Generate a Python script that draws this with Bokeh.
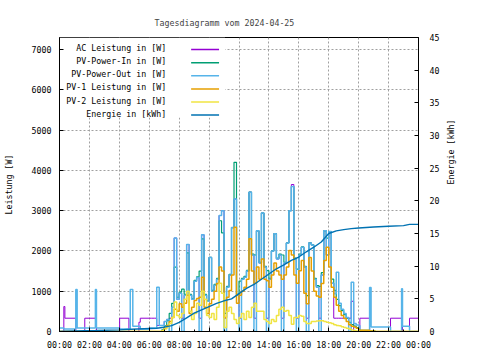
from bokeh.plotting import figure
from bokeh.models import Range1d, LinearAxis, FixedTicker, ColumnDataSource
from bokeh.core.properties import value
from bokeh.embed import file_html
from bokeh.resources import INLINE
import math

FONT = "DejaVu Sans Mono"
FS = "8.3px"
title = "Tagesdiagramm vom 2024-04-25"
labels = ["AC Leistung in [W]", "PV-Power-In in [W]", "PV-Power-Out in [W]",
          "PV-1 Leistung in [W]", "PV-2 Leistung in [W]", "Energie in [kWh]"]
colors = ["#9400d3", "#009e73", "#56b4e9", "#e69f00", "#f0e442", "#0072b2"]

x_ticks = [0, 2, 4, 6, 8, 10, 12, 14, 16, 18, 20, 22, 24]
x_tick_labels = ["00:00", "02:00", "04:00", "06:00", "08:00", "10:00", "12:00",
                 "14:00", "16:00", "18:00", "20:00", "22:00", "00:00"]
y_ticks = [0, 1000, 2000, 3000, 4000, 5000, 6000, 7000]
y2_ticks = [0, 5, 10, 15, 20, 25, 30, 35, 40, 45]

# ---- night samples (hours) ----
t_night = [0.0, 0.29, 0.36, 1.09, 1.18, 1.69, 2.40, 2.47, 4.02, 4.64, 4.73, 4.90, 5.31, 5.40]
out_night = [90, 60, 60, 1040, 90, 90, 1040, 90, 60, 60, 1040, 130, 130, 60]
ac_night = [0, 620, 330, 0, 0, 330, 330, 0, 330, 0, 0, 0, 230, 330]
in_night = [0] * 14
pv1_night = [0] * 14
pv2_night = [0] * 14

# ---- day samples, every 10 minutes from 06:00 to 20:00 ----
t_day = [6 + i / 6 for i in range(85)]
out_day = [90, 90, 90, 1100, 150, 150, 250, 300, 0, 600,
           2320, 800, 950, 0, 900, 2160, 900, 800, 1250, 1340,
           0, 2400, 900, 750, 1840, 1000, 1150, 1300, 2880, 3000,
           0, 1100, 1400, 2580, 3290, 900, 0, 1300, 1350, 1500,
           3460, 1900, 0, 2500, 1700, 2940, 1600, 0, 1300, 2000,
           2430, 1800, 1900, 0, 1700, 2200, 3000, 3600, 1800, 0,
           1900, 2090, 1600, 0, 2200, 2150, 1300, 1100, 0, 1400,
           2500, 1900, 2480, 1200, 940, 1470, 700, 550, 450, 350,
           0, 1220, 200, 160, 150]
ac_day = [330, 330, 330, 150, 150, 150, 250, 300, 330, 600,
          2320, 800, 950, 330, 900, 2160, 900, 800, 1250, 1340,
          330, 2400, 900, 750, 1840, 1000, 1150, 1300, 2880, 3000,
          330, 1100, 1400, 2580, 3290, 900, 330, 1300, 1350, 1500,
          3460, 1900, 330, 2500, 1700, 2940, 1600, 330, 1300, 2000,
          2430, 1800, 1900, 330, 1700, 2200, 3000, 3650, 1800, 330,
          1900, 2090, 1600, 330, 2200, 2150, 1300, 1100, 330, 1400,
          2500, 1900, 2480, 1200, 330, 330, 330, 330, 330, 330,
          330, 750, 0, 0, 0]
in_day = [0, 0, 0, 0, 0, 40, 140, 270, 450, 700,
          1600, 850, 980, 1050, 920, 1950, 920, 820, 1270, 1360,
          1500, 2300, 920, 770, 1840, 1020, 1170, 1320, 2750, 2450,
          450, 1120, 1420, 2580, 4200, 920, 1250, 1320, 1370, 1520,
          3460, 1920, 1900, 2500, 1720, 2940, 1620, 1510, 1320, 2000,
          2430, 1820, 1920, 1900, 1720, 2200, 3000, 3600, 1820, 1550,
          1920, 2100, 1620, 890, 2200, 2150, 1320, 1140, 1120, 1460,
          2500, 2320, 2480, 1300, 1020, 800, 640, 520, 420, 330,
          230, 170, 135, 95, 45]
pv1_day = [0, 0, 0, 0, 0, 20, 80, 150, 250, 350,
           550, 500, 690, 600, 700, 900, 450, 600, 770, 820,
           850, 1350, 600, 450, 690, 800, 1000, 1190, 1600, 1500,
           350, 850, 1020, 1400, 2590, 700, 900, 1000, 1100, 1300,
           2300, 1500, 1200, 1600, 1300, 1800, 1300, 1260, 1100, 1400,
           1700, 1500, 1400, 1300, 1400, 1600, 2010, 1900, 1400, 1200,
           1510, 1760, 950, 690, 1840, 1500, 1000, 880, 850, 1190,
           1760, 2090, 1600, 1100, 850, 650, 500, 400, 320, 250,
           170, 130, 110, 80, 40]
pv2_day = [0, 0, 0, 0, 0, 20, 60, 120, 200, 350,
           730, 400, 350, 450, 800, 1000, 500, 300, 450, 700,
           650, 1000, 800, 400, 350, 450, 300, 600, 1200, 950,
           100, 500, 600, 450, 300, 200, 350, 450, 300, 500,
           350, 600, 700, 500, 500, 500, 300, 250, 200, 300,
           250, 400, 550, 600, 500, 520, 400, 180, 350, 350,
           400, 380, 250, 200, 200, 250, 250, 260, 270, 270,
           250, 230, 220, 200, 170, 150, 140, 120, 100, 80,
           60, 40, 25, 15, 5]

# ---- evening samples ----
t_eve = [20.08, 20.73, 20.83, 21.1, 22.13, 22.87, 22.93, 23.4, 24.0]
out_eve = [0, 1090, 110, 110, 0, 1060, 130, 0, 0]
ac_eve = [330, 0, 0, 0, 330, 700, 0, 330, 330]
in_eve = [30, 20, 15, 0, 0, 0, 0, 0, 0]
pv1_eve = [30, 20, 15, 0, 0, 0, 0, 0, 0]
pv2_eve = [0, 0, 0, 0, 0, 0, 0, 0, 0]

# ---- cumulative energy (kWh) ----
e_t = [0, 0.3, 2.4, 4.0, 4.8, 6.5, 7.0, 7.5, 8.0, 8.5, 9.0, 9.5, 10.0, 10.5, 11.0, 11.5,
       12.0, 12.5, 13.0, 13.5, 14.0, 14.5, 15.0, 15.5, 16.0, 16.5, 17.0, 17.5, 18.0,
       18.5, 19.0, 19.5, 20.0, 21.0, 22.0, 23.0, 23.4, 24.0]
e_v = [0, 0.05, 0.15, 0.25, 0.35, 0.5, 0.66, 0.9, 1.4, 2.1, 2.8, 3.3, 3.8, 4.3, 4.7, 5.0,
       5.8, 6.6, 7.2, 8.0, 8.8, 9.6, 10.2, 10.9, 11.4, 12.2, 12.9, 13.7, 15.0,
       15.4, 15.6, 15.75, 15.85, 16.0, 16.1, 16.2, 16.4, 16.4]

src = ColumnDataSource(dict(
    t=t_night + t_day + t_eve,
    ac=ac_night + ac_day + ac_eve,
    pin=in_night + in_day + in_eve,
    pout=out_night + out_day + out_eve,
    pv1=pv1_night + pv1_day + pv1_eve,
    pv2=pv2_night + pv2_day + pv2_eve,
))

Y_MAX = 7300
p = figure(width=480, height=360, x_range=Range1d(0, 24), y_range=Range1d(0, Y_MAX),
           output_backend="svg", toolbar_location=None, title=title,
           min_border_left=58, min_border_right=62, min_border_top=37, min_border_bottom=29)
p.extra_y_ranges = {"energy": Range1d(0, 45)}

p.background_fill_color = "white"
p.border_fill_color = "white"
p.outline_line_color = "black"
p.outline_line_width = 1

p.title.text_font = FONT
p.title.text_font_size = FS
p.title.text_font_style = "normal"
p.title.align = "left"
p.title.offset = 95
p.title.standoff = 20

# axes
xa = p.xaxis[0]
xa.ticker = FixedTicker(ticks=x_ticks, minor_ticks=[h for h in range(1, 24, 2)])
xa.major_label_overrides = {t: l for t, l in zip(x_ticks, x_tick_labels)}
ya = p.yaxis[0]
ya.ticker = FixedTicker(ticks=y_ticks)
ya.axis_label = "Leistung [W]"
ya2 = LinearAxis(y_range_name="energy", axis_label="Energie [kWh]",
                 ticker=FixedTicker(ticks=y2_ticks))
p.add_layout(ya2, "right")
for ax in (xa, ya, ya2):
    ax.major_label_text_font = FONT
    ax.major_label_text_font_size = FS
    ax.major_label_text_color = "black"
    ax.axis_label_text_font = FONT
    ax.axis_label_text_font_size = FS
    ax.axis_label_text_font_style = "normal"
    ax.axis_label_text_color = "black"
    ax.axis_line_color = "black"
    ax.major_tick_line_color = "black"
    ax.minor_tick_line_color = "black"
    ax.major_tick_out = 0
    ax.major_tick_in = 4
    ax.minor_tick_out = 0
    ax.minor_tick_in = 2
xa.major_label_standoff = 8
ya.major_label_standoff = 8
ya.axis_label_standoff = 15
ya2.major_label_standoff = 11
ya2.axis_label_standoff = 9
ya2.axis_label_orientation = math.pi / 2

for g in (p.xgrid[0], p.ygrid[0]):
    g.grid_line_color = "#a0a0a0"
    g.grid_line_dash = "2 2"
    g.grid_line_width = 1
p.xgrid[0].ticker = FixedTicker(ticks=x_ticks)
p.ygrid[0].ticker = FixedTicker(ticks=y_ticks)

# helpers: reference pixel -> data (layout only)
def hx(px):
    return (px - 58) / 15.0

def wy(py):
    return (331 - py) / 294.0 * Y_MAX

# legend background box (clears grid)
p.quad(left=[0], right=[hx(224)], bottom=[wy(117)], top=[Y_MAX],
       fill_color="white", line_color=None)

lw = 1.5
p.step(x="t", y="ac", source=src, mode="after", line_color=colors[0], line_width=1.0)
p.step(x="t", y="pin", source=src, mode="after", line_color=colors[1], line_width=1.2)
p.step(x="t", y="pout", source=src, mode="after", line_color=colors[2], line_width=lw)
p.step(x="t", y="pv1", source=src, mode="after", line_color=colors[3], line_width=lw)
p.step(x="t", y="pv2", source=src, mode="after", line_color=colors[4], line_width=lw)
p.line(x=e_t, y=e_v, y_range_name="energy", line_color=colors[5], line_width=1.4)

# manual gnuplot-style legend
leg_py = [49, 62.2, 75.3, 88.4, 101.5, 114.6]
p.text(x=[hx(165)] * 6, y=[wy(py - 1.5) for py in leg_py], text=labels,
       text_align="right", text_baseline="middle", text_font=value(FONT),
       text_font_size=FS, text_color="black")
p.segment(x0=[hx(190)] * 6, x1=[hx(218)] * 6, y0=[wy(py) for py in leg_py],
          y1=[wy(py) for py in leg_py], line_color=colors, line_width=lw)

open("out.html", "w").write(file_html(p, INLINE))
